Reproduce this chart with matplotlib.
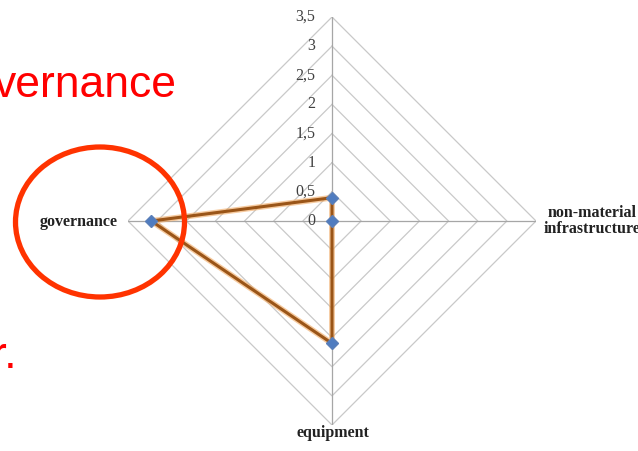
import numpy as np
import matplotlib
matplotlib.use("Agg")
import matplotlib.pyplot as plt
from matplotlib.patches import Ellipse

# radar categories, clockwise from the top spoke
categories = ["", "non-material\ninfrastructure", "equipment", "governance"]
values = [0.4, 0.0, 2.1, 3.1]
ring_levels = [0.5, 1.0, 1.5, 2.0, 2.5, 3.0, 3.5]
tick_levels = [0, 0.5, 1, 1.5, 2, 2.5, 3, 3.5]
tick_labels = ["0", "0,5", "1", "1,5", "2", "2,5", "3", "3,5"]

W, H = 638, 451
fig = plt.figure(figsize=(W / 100, H / 100), dpi=100)
fig.patch.set_facecolor("white")

# axes square: center (332,221), radius 204 px
cx, cy, rad = 332, 221, 204
ax = fig.add_axes([(cx - rad) / W, (H - cy - rad) / H, 2 * rad / W, 2 * rad / H],
                  projection="polar")
ax.set_theta_zero_location("N")
ax.set_theta_direction(-1)
ax.set_ylim(0, 3.5)
ax.grid(False)
ax.set_xticks([])
ax.set_yticks([])
ax.spines["polar"].set_visible(False)
ax.patch.set_alpha(0)

angles = np.deg2rad([0, 90, 180, 270])
closed = np.append(angles, angles[0])

# diamond grid
for r in ring_levels:
    ax.plot(closed, [r] * len(closed), color="#c9c9c9", lw=0.9, zorder=1)
# spokes
for a in angles:
    ax.plot([a, a], [0, 3.5], color="#a6a6a6", lw=0.9, zorder=1)

# radial tick labels on the top spoke
for v, lab in zip(tick_levels, tick_labels):
    ax.annotate(lab, xy=(0, v), xytext=(-12, 0), textcoords="offset points",
                ha="right", va="center", fontsize=11.5, color="#404040",
                family="Liberation Serif")

# category labels
ax.text(0, 3.5, categories[0], ha="center", va="bottom")
fig.text(592 / W, 1 - 221 / H, categories[1], ha="center", va="center",
         fontsize=11.5, fontweight="bold", family="Liberation Serif",
         color="#222222", linespacing=1.0)
fig.text(333 / W, 1 - 433 / H, categories[2], ha="center", va="center",
         fontsize=11.5, fontweight="bold", family="Liberation Serif",
         color="#222222")
fig.text(118 / W, 1 - 222 / H, categories[3], ha="right", va="center",
         fontsize=11.5, fontweight="bold", family="Liberation Serif",
         color="#222222")

# data series
vals = values + values[:1]
ax.plot(closed, vals, color="#f0a860", lw=4.2, alpha=0.6, zorder=3)
ax.plot(closed, vals, color="#9a5518", lw=2.2, zorder=4)
ax.plot(angles, values, linestyle="none", marker="D", markersize=6.5,
        color="#4f7cc0", markeredgecolor="#5b7fb8", zorder=5)

# red slide overlay
fig.text(-6 / W, 1 - 97 / H, "vernance", ha="left", va="baseline",
         fontsize=32, color="#ff0000", family="Liberation Sans")
fig.text(-8 / W, 1 - 368 / H, "r.", ha="left", va="baseline",
         fontsize=32, color="#ff0000", family="Liberation Sans")
circ = Ellipse((100 / W, 1 - 222 / H), 169 / W, 150 / H, transform=fig.transFigure,
               fill=False, edgecolor="#ff3300", lw=3.8, zorder=10)
fig.add_artist(circ)

fig.savefig("out.png", dpi=100, facecolor="white")
